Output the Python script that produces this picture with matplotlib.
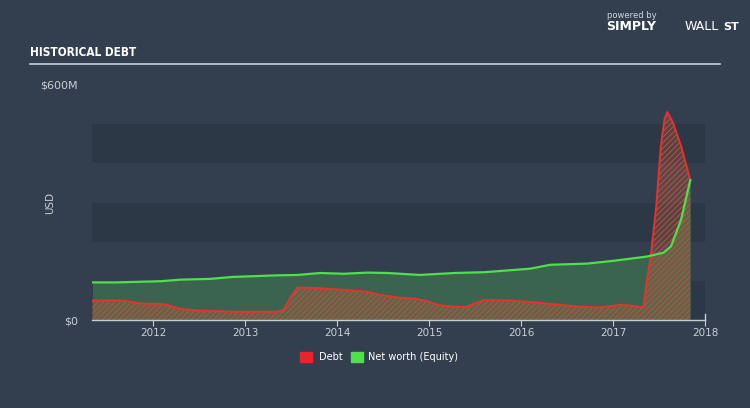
import matplotlib.pyplot as plt

# Data (decimal year, USD millions)
equity_t = [2011.34, 2011.6, 2012.08, 2012.3, 2012.62, 2012.87, 2013.35, 2013.57,
            2013.82, 2014.07, 2014.33, 2014.55, 2014.9, 2015.28, 2015.6, 2016.1,
            2016.32, 2016.72, 2017.0, 2017.37, 2017.55, 2017.63, 2017.74, 2017.84]
equity = [96, 96, 99, 103, 105, 110, 114, 115,
          120, 118, 121, 120, 115, 120, 122, 131,
          141, 144, 151, 162, 172, 188, 256, 357]

debt_t = [2011.34, 2011.6, 2011.7, 2011.86, 2012.08, 2012.15, 2012.3, 2012.5,
          2012.87, 2013.35, 2013.42, 2013.5, 2013.57, 2013.82, 2014.07, 2014.33,
          2014.47, 2014.68, 2014.86, 2014.97, 2015.1, 2015.28, 2015.4, 2015.5,
          2015.6, 2015.88, 2016.1, 2016.32, 2016.64, 2016.85, 2017.0, 2017.08,
          2017.22, 2017.33, 2017.37, 2017.41, 2017.47, 2017.52, 2017.56, 2017.59,
          2017.65, 2017.74, 2017.84]
debt = [50, 50, 49, 42, 41, 39, 28, 24,
        21, 21, 26, 60, 83, 81, 77, 72,
        64, 57, 54, 49, 38, 34, 33, 43,
        51, 50, 46, 41, 34, 32, 36, 39,
        36, 32, 103, 162, 290, 444, 513, 531,
        505, 444, 357]

year_ticks = [2012, 2013, 2014, 2015, 2016, 2017, 2018]

BG = '#333f4f'
BAND = '#2d3846'
TXT = '#c9ced6'

plt.rcParams['hatch.linewidth'] = 0.6

fig = plt.figure(figsize=(7.5, 4.08), dpi=100, facecolor=BG)
ax = fig.add_axes([92 / 750, 1 - 320 / 408, (705 - 92) / 750, (320 - 85) / 408])
ax.set_facecolor(BG)

# background bands
for lo in (0, 200, 400):
    ax.axhspan(lo, lo + 100, color=BAND, lw=0, zorder=0)

# equity area
ax.fill_between(equity_t, equity, 0, color='#3a6450', lw=0, zorder=1)
# debt hatched area
ax.fill_between(debt_t, debt, 0, facecolor=(0.78, 0.38, 0.25, 0.28),
                edgecolor='#c4543a', hatch='//////', lw=0, zorder=2)
ax.plot(debt_t, debt, color='#e8322c', lw=1.4, zorder=3)
ax.plot(equity_t, equity, color='#4fe04a', lw=1.6, zorder=4)

ax.set_xlim(2011.337, 2018)
ax.set_ylim(0, 600)
ax.set_xticks(year_ticks)
ax.set_xticklabels([str(y) for y in year_ticks])
ax.set_yticks([0, 600])
ax.set_yticklabels(['$0', '$600M'])
ax.tick_params(axis='y', length=0, pad=10, labelcolor=TXT, labelsize=8)
ax.tick_params(axis='x', length=4, color=TXT, labelcolor=TXT, labelsize=7.5, pad=2)
for s in ('top', 'right', 'left'):
    ax.spines[s].set_visible(False)
ax.spines['bottom'].set_color(TXT)
ax.spines['bottom'].set_linewidth(1)
ax.plot([1, 1], [0, 0.025], transform=ax.transAxes, color=TXT, lw=1, clip_on=False)
ax.set_ylabel('USD', color=TXT, fontsize=7.5)
ax.yaxis.set_label_coords(-0.06, 0.5)

# header
fig.text(30 / 750, 1 - 53 / 408, 'HISTORICAL DEBT', color='white', fontsize=8.5,
         fontweight='bold', fontstretch='condensed',
         family=['DejaVu Sans'], va='center')
fig.add_artist(plt.Line2D([30 / 750, 720 / 750], [1 - 64 / 408, 1 - 64 / 408],
                          color='#c5ced8', lw=1.2))
fig.text(607 / 750, 1 - 15 / 408, 'powered by', color='#d0d4da', fontsize=6, va='center')
fig.text(606 / 750, 1 - 27 / 408, 'SIMPLY', color='white', fontsize=9,
         fontweight='bold', va='center')
fig.text(685 / 750, 1 - 27 / 408, 'WALL', color='white', fontsize=9, va='center')
fig.text(723 / 750, 1 - 27 / 408, 'ST', color='white', fontsize=8,
         fontweight='bold', va='center')

# legend
fig.patches.append(plt.Rectangle((300 / 750, 1 - 362 / 408), 12 / 750, 10 / 408,
                                 transform=fig.transFigure, color='#e8242c'))
fig.text(319 / 750, 1 - 357 / 408, 'Debt', color='white', fontsize=7, va='center')
fig.patches.append(plt.Rectangle((351 / 750, 1 - 362 / 408), 12 / 750, 10 / 408,
                                 transform=fig.transFigure, color='#4fe04a'))
fig.text(368 / 750, 1 - 357 / 408, 'Net worth (Equity)', color='white', fontsize=7,
         va='center')

fig.savefig('out.png', dpi=100, facecolor=BG)
